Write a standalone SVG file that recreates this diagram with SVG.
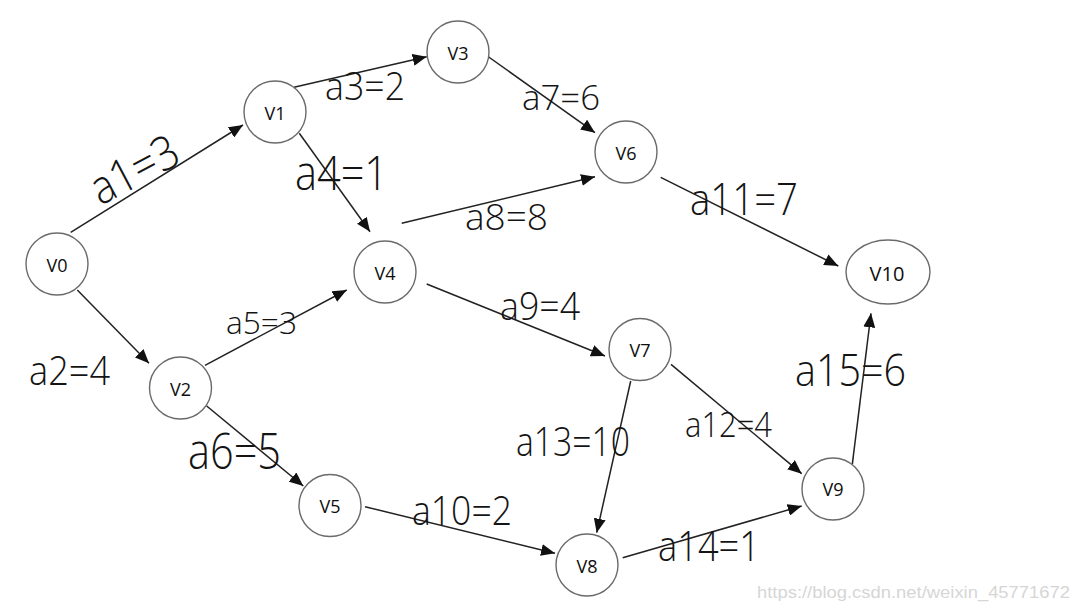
<svg xmlns="http://www.w3.org/2000/svg" width="1080" height="612" viewBox="0 0 1080 612">
<style>
.node circle, .node ellipse { fill: #fff; stroke: #6a6a6a; stroke-width: 1.4; }
.node text { font-family: "Open Sans", "Liberation Sans", sans-serif; font-size: 18px; font-weight: 500; fill: #0e0e0e; text-anchor: middle; dominant-baseline: central; }
.edge { stroke: #222; stroke-width: 1.5; fill: none; marker-end: url(#arrow); }
.lbl { font-family: "Open Sans", "Liberation Sans", sans-serif; font-weight: 300; fill: #141414; }
.wm { font-family: "Liberation Sans", Arial, sans-serif; font-size: 17px; fill: #d6d6d6; }
</style>
<defs>
<marker id="arrow" markerUnits="userSpaceOnUse" markerWidth="14" markerHeight="12" viewBox="0 0 14 12" refX="14" refY="6" orient="auto">
<path d="M0,0 L14,6 L0,12 z" fill="#111"/>
</marker>
</defs>
<rect width="1080" height="612" fill="#fff"/>
<g id="connectors">
<line class="edge" x1="70.7" y1="232.3" x2="243" y2="125"/>
<line class="edge" x1="77.3" y1="290" x2="149" y2="363.3"/>
<line class="edge" x1="294" y1="87.3" x2="426.7" y2="56.7"/>
<line class="edge" x1="299.3" y1="133.3" x2="370" y2="231.7"/>
<line class="edge" x1="205" y1="365.3" x2="346.7" y2="290"/>
<line class="edge" x1="206.7" y1="406" x2="303.3" y2="486"/>
<line class="edge" x1="487.3" y1="56" x2="595" y2="132.7"/>
<line class="edge" x1="401.7" y1="223.3" x2="595" y2="176.7"/>
<line class="edge" x1="426.7" y1="284" x2="605" y2="356"/>
<line class="edge" x1="365" y1="506.7" x2="555" y2="553.3"/>
<line class="edge" x1="660.7" y1="177.3" x2="838.3" y2="266"/>
<line class="edge" x1="671" y1="364.3" x2="801.7" y2="473.7"/>
<line class="edge" x1="630.7" y1="381" x2="596.7" y2="532.7"/>
<line class="edge" x1="622.7" y1="557.7" x2="801.7" y2="506"/>
<line class="edge" x1="852.3" y1="464.3" x2="871" y2="313.3"/>
</g>
<g id="labels">
<text class="lbl" font-size="47" text-anchor="middle" textLength="94" lengthAdjust="spacingAndGlyphs" transform="translate(142,184) rotate(-28)">a1=3</text>
<text class="lbl" x="29" y="385" font-size="40" textLength="81" lengthAdjust="spacingAndGlyphs">a2=4</text>
<text class="lbl" x="325" y="100" font-size="38" textLength="80" lengthAdjust="spacingAndGlyphs">a3=2</text>
<text class="lbl" x="295" y="190" font-size="47" textLength="93" lengthAdjust="spacingAndGlyphs">a4=1</text>
<text class="lbl" x="226" y="334" font-size="31" textLength="71" lengthAdjust="spacingAndGlyphs">a5=3</text>
<text class="lbl" x="188" y="469" font-size="50" textLength="93" lengthAdjust="spacingAndGlyphs">a6=5</text>
<text class="lbl" x="522" y="110" font-size="35" textLength="78" lengthAdjust="spacingAndGlyphs">a7=6</text>
<text class="lbl" x="465" y="230" font-size="36" textLength="83" lengthAdjust="spacingAndGlyphs">a8=8</text>
<text class="lbl" x="500" y="320" font-size="38" textLength="80" lengthAdjust="spacingAndGlyphs">a9=4</text>
<text class="lbl" x="412" y="525" font-size="40" textLength="100" lengthAdjust="spacingAndGlyphs">a10=2</text>
<text class="lbl" x="690" y="215" font-size="45" textLength="108" lengthAdjust="spacingAndGlyphs">a11=7</text>
<text class="lbl" x="685" y="437" font-size="35" textLength="87" lengthAdjust="spacingAndGlyphs">a12=4</text>
<text class="lbl" x="516" y="456" font-size="40" textLength="114" lengthAdjust="spacingAndGlyphs">a13=10</text>
<text class="lbl" x="658" y="561" font-size="43" textLength="102" lengthAdjust="spacingAndGlyphs">a14=1</text>
<text class="lbl" x="795" y="386" font-size="45" textLength="111" lengthAdjust="spacingAndGlyphs">a15=6</text>
</g>
<g id="V0" class="node"><circle cx="57" cy="264" r="31"/><text x="57" y="265">V0</text></g>
<g id="V1" class="node"><circle cx="275" cy="112" r="31"/><text x="275" y="113">V1</text></g>
<g id="V2" class="node"><circle cx="180.5" cy="388" r="31"/><text x="180.5" y="389">V2</text></g>
<g id="V3" class="node"><circle cx="458" cy="52" r="31"/><text x="458" y="53">V3</text></g>
<g id="V4" class="node"><circle cx="385" cy="272" r="31"/><text x="385" y="273">V4</text></g>
<g id="V5" class="node"><circle cx="330" cy="505.5" r="31"/><text x="330" y="506">V5</text></g>
<g id="V6" class="node"><circle cx="626" cy="152" r="31"/><text x="626" y="153">V6</text></g>
<g id="V7" class="node"><circle cx="640" cy="349.5" r="31"/><text x="640" y="350">V7</text></g>
<g id="V8" class="node"><circle cx="587" cy="565" r="31"/><text x="587" y="566">V8</text></g>
<g id="V9" class="node"><circle cx="833" cy="489" r="31"/><text x="833" y="489">V9</text></g>
<g id="V10" class="node"><ellipse cx="888" cy="272" rx="42" ry="32"/><text x="887" y="273" style="font-size:20px">V10</text></g>
<text class="wm" x="757" y="598" textLength="313" lengthAdjust="spacingAndGlyphs">https://blog.csdn.net/weixin_45771672</text>
</svg>
